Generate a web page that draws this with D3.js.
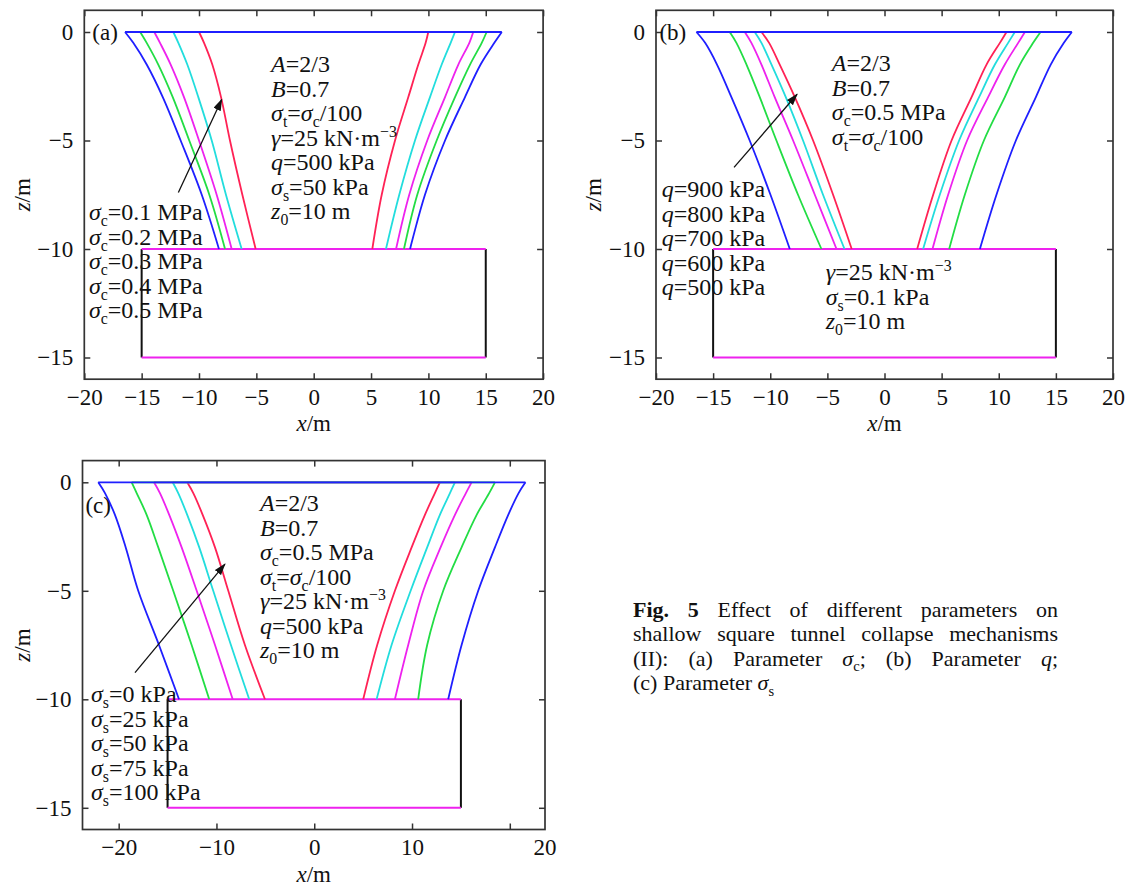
<!DOCTYPE html>
<html>
<head>
<meta charset="utf-8">
<script src="https://cdn.jsdelivr.net/npm/d3@7"></script>
<style>
  html, body { margin: 0; padding: 0; background: #fff; }
  svg { display: block; font-family: "Liberation Serif", "Times New Roman", serif; }
</style>
</head>
<body>
<svg id="fig" width="1137" height="888"></svg>
<script>
// Depth levels (m) at which every failure-surface profile is sampled
const depths = [0, -0.5, -1.5, -3, -5, -7.5, -10];

// Curve colours, in legend order (first legend entry = blue)
const seriesColors = ["#1f1fff", "#22dd44", "#ee22ee", "#22dddd", "#ff2255"];

// ---- (a) effect of sigma_c : x (m) of the left / right failure surface at each depth
const aLeft = [
  [-16.45, -15.73, -14.56, -13.16, -11.60, -9.76, -8.26],
  [-15.13, -14.56, -13.55, -12.29, -10.85, -9.10, -7.73],
  [-13.90, -13.40, -12.47, -11.31, -10.00, -8.46, -7.15],
  [-12.24, -11.80, -11.02, -10.06, -8.89, -7.65, -6.28],
  [-10.00, -9.56, -8.84, -8.08, -7.30, -6.22, -5.06]
];
const aRight = [
  [16.40, 15.75, 14.55, 13.19, 11.45, 9.70, 8.40],
  [15.08, 14.65, 13.63, 12.32, 10.72, 9.03, 7.87],
  [13.91, 13.57, 12.61, 11.45, 9.90, 8.33, 7.18],
  [12.32, 11.94, 11.16, 10.14, 8.83, 7.46, 6.30],
  [9.99, 9.76, 9.12, 8.25, 7.09, 5.93, 5.11]
];
const aLegend = ["*σ*_{c}=0.1 MPa", "*σ*_{c}=0.2 MPa", "*σ*_{c}=0.3 MPa", "*σ*_{c}=0.4 MPa", "*σ*_{c}=0.5 MPa"];
const aParams = ["*A*=2/3", "*B*=0.7", "*σ*_{t}=*σ*_{c}/100", "*γ*=25 kN·m^{−3}", "*q*=500 kPa", "*σ*_{s}=50 kPa", "*z*_{0}=10 m"];
const aArrow = [[-11.8, -7.4], [-8.02, -3.11]];

// ---- (b) effect of q
const bLeft = [
  [-16.46, -15.70, -14.66, -13.40, -11.80, -9.98, -8.29],
  [-13.55, -12.96, -12.08, -10.92, -9.46, -7.57, -5.52],
  [-12.23, -11.65, -10.77, -9.61, -8.00, -6.10, -4.20],
  [-11.36, -10.77, -9.89, -8.64, -7.13, -5.38, -3.50],
  [-10.77, -10.10, -9.17, -7.85, -6.25, -4.50, -2.87]
];
const bRight = [
  [16.40, 15.70, 14.55, 13.25, 11.50, 9.80, 8.35],
  [13.66, 13.01, 11.85, 10.53, 8.70, 7.03, 5.66],
  [12.29, 11.70, 10.53, 9.07, 7.23, 5.57, 4.20],
  [11.41, 10.82, 9.66, 8.28, 6.53, 4.84, 3.38],
  [10.68, 10.10, 8.93, 7.62, 5.87, 4.26, 2.86]
];
const bLegend = ["*q*=900 kPa", "*q*=800 kPa", "*q*=700 kPa", "*q*=600 kPa", "*q*=500 kPa"];
const bParams = ["*A*=2/3", "*B*=0.7", "*σ*_{c}=0.5 MPa", "*σ*_{t}=*σ*_{c}/100"];
const bParams2 = ["*γ*=25 kN·m^{−3}", "*σ*_{s}=0.1 kPa", "*z*_{0}=10 m"];
const bArrow = [[-13.17, -6.24], [-7.65, -2.87]];

// ---- (c) effect of sigma_s
const cLeft = [
  [-22.09, -21.40, -20.38, -19.28, -18.00, -15.88, -13.83],
  [-18.67, -18.16, -17.14, -15.95, -14.42, -12.54, -10.74],
  [-16.39, -15.78, -14.83, -13.56, -12.02, -10.15, -8.34],
  [-14.48, -13.91, -12.99, -11.76, -10.33, -8.52, -6.65],
  [-12.99, -12.37, -11.41, -10.15, -8.79, -7.09, -5.04]
];
const cRight = [
  [21.60, 20.90, 19.84, 18.48, 16.77, 15.07, 13.70],
  [18.48, 17.89, 16.61, 15.07, 13.19, 11.55, 10.63],
  [16.09, 15.51, 14.39, 12.92, 11.15, 9.61, 8.25],
  [14.39, 13.88, 12.85, 11.55, 9.86, 7.91, 6.38],
  [12.85, 12.34, 11.32, 9.96, 8.25, 6.44, 5.01]
];
const cLegend = ["*σ*_{s}=0 kPa", "*σ*_{s}=25 kPa", "*σ*_{s}=50 kPa", "*σ*_{s}=75 kPa", "*σ*_{s}=100 kPa"];
const cParams = ["*A*=2/3", "*B*=0.7", "*σ*_{c}=0.5 MPa", "*σ*_{t}=*σ*_{c}/100", "*γ*=25 kN·m^{−3}", "*q*=500 kPa", "*z*_{0}=10 m"];
const cArrow = [[-18.33, -8.77], [-9.13, -3.77]];

// Tunnel outline (m)
const tunnelX = [-15, 15];
const tunnelZ = [-10, -15];

// Axis ticks
const zDomain = [-16, 1];
const zTicks = [0, -5, -10, -15];
const abXTicks = [-20, -15, -10, -5, 0, 5, 10, 15, 20];
const cXTicks = [-20, -10, 0, 10, 20];

// Caption, one array of words per line
const captionLines = [
  ["**Fig.**", "**5**", "Effect", "of", "different", "parameters", "on"],
  ["shallow", "square", "tunnel", "collapse", "mechanisms"],
  ["(II):", "(a)", "Parameter", "*σ*_{c};", "(b)", "Parameter", "*q*;"],
  ["(c)", "Parameter", "*σ*_{s}"]
];

// ------------------------------------------------------------------
const FS_TICK = 23;     // tick labels, axis titles, panel tags
const FS_NOTE = 24;     // annotation blocks inside the axes
const FS_CAP = 22;      // caption
const LINE = 24.5;      // stacked text line height
const svg = d3.select("#fig");

svg.append("defs").append("marker")
  .attr("id", "arrowHead")
  .attr("markerUnits", "userSpaceOnUse")
  .attr("markerWidth", 12).attr("markerHeight", 8)
  .attr("refX", 11).attr("refY", 4)
  .attr("orient", "auto")
  .append("path").attr("d", "M0,0 L12,4 L0,8 Z").attr("fill", "#111");

// Mini markup: **bold**, *italic*, _{sub}, ^{sup}
function addRich(textSel, markup, size) {
  const re = /\*\*([^*]+)\*\*|\*([^*]+)\*|_\{([^}]*)\}|\^\{([^}]*)\}|([^*_^]+)/g;
  let m, shift = 0;
  while ((m = re.exec(markup))) {
    const ts = textSel.append("tspan");
    let target = 0;
    if (m[1] !== undefined) ts.text(m[1]).attr("font-weight", "bold");
    else if (m[2] !== undefined) ts.text(m[2]).attr("font-style", "italic");
    else if (m[3] !== undefined) { ts.text(m[3]).attr("font-size", size * 0.66); target = size * 0.25; }
    else if (m[4] !== undefined) { ts.text(m[4]).attr("font-size", size * 0.66); target = -size * 0.38; }
    else ts.text(m[5]);
    if (target !== shift) { ts.attr("dy", target - shift); shift = target; }
  }
}

function textBlock(g, lines, x, y) {
  lines.forEach((s, i) => {
    const t = g.append("text")
      .attr("x", x).attr("y", y + i * LINE).attr("dy", "0.35em")
      .attr("font-size", FS_NOTE).attr("fill", "#111");
    addRich(t, s, FS_NOTE);
  });
}

function drawPanel(cfg) {
  const x = d3.scaleLinear().domain(cfg.xDomain).range([cfg.x0, cfg.x1]);
  const z = d3.scaleLinear().domain(zDomain).range([cfg.y1, cfg.y0]);
  const g = svg.append("g");

  // axes (inward ticks on all four sides)
  const styleAxis = (ax) => {
    ax.select(".domain").remove();
    ax.selectAll(".tick line").attr("stroke", "#333").attr("stroke-width", 1.5);
    ax.selectAll("text").attr("font-size", FS_TICK).attr("fill", "#111")
      .attr("font-family", "Liberation Serif, Times New Roman, serif");
  };
  const fmtX = (d) => (cfg.edgeLabel !== undefined && d === cfg.edgeLabel) ? "" : d3.format("d")(d);
  g.append("g").attr("transform", `translate(0,${cfg.y1})`)
    .call(d3.axisBottom(x).tickValues(cfg.xTicks).tickSizeInner(-6).tickSizeOuter(0).tickPadding(9).tickFormat(fmtX))
    .call(styleAxis);
  g.append("g").attr("transform", `translate(0,${cfg.y0})`)
    .call(d3.axisTop(x).tickValues(cfg.xTicks).tickSizeInner(-6).tickSizeOuter(0).tickFormat(""))
    .call(styleAxis);
  g.append("g").attr("transform", `translate(${cfg.x0},0)`)
    .call(d3.axisLeft(z).tickValues(zTicks).tickSizeInner(-6).tickSizeOuter(0).tickPadding(11))
    .call(styleAxis);
  g.append("g").attr("transform", `translate(${cfg.x1},0)`)
    .call(d3.axisRight(z).tickValues(zTicks).tickSizeInner(-6).tickSizeOuter(0).tickFormat(""))
    .call(styleAxis);
  if (cfg.edgeLabel !== undefined) {
    // last label sits under the right-hand frame edge
    g.append("text").attr("x", cfg.x1).attr("y", cfg.y1 + 9).attr("dy", "0.71em")
      .attr("text-anchor", "middle").attr("font-size", FS_TICK).attr("fill", "#111")
      .text(d3.format("d")(cfg.edgeLabel));
  }

  // frame
  g.append("rect").attr("x", cfg.x0).attr("y", cfg.y0)
    .attr("width", cfg.x1 - cfg.x0).attr("height", cfg.y1 - cfg.y0)
    .attr("fill", "none").attr("stroke", "#333").attr("stroke-width", 1.7);

  // axis titles
  const xt = g.append("text").attr("x", (cfg.x0 + cfg.x1) / 2).attr("y", cfg.y1 + 44)
    .attr("dy", "0.35em").attr("text-anchor", "middle").attr("font-size", FS_TICK).attr("fill", "#111");
  addRich(xt, "*x*/m", FS_TICK);
  const zt = g.append("text")
    .attr("transform", `translate(${cfg.zTitleX},${(cfg.y0 + cfg.y1) / 2}) rotate(-90)`)
    .attr("dy", "0.35em").attr("text-anchor", "middle").attr("font-size", FS_TICK).attr("fill", "#111");
  addRich(zt, "*z*/m", FS_TICK);

  // tunnel
  const tun = g.append("g").attr("stroke-width", 2).attr("fill", "none");
  tunnelX.forEach(tx => tun.append("line")
    .attr("x1", x(tx)).attr("x2", x(tx)).attr("y1", z(tunnelZ[0])).attr("y2", z(tunnelZ[1]))
    .attr("stroke", "#111"));
  tunnelZ.forEach(tz => tun.append("line")
    .attr("x1", x(tunnelX[0])).attr("x2", x(tunnelX[1])).attr("y1", z(tz)).attr("y2", z(tz))
    .attr("stroke", "#ee22ee"));

  // failure surfaces: draw the last legend entry first so blue ends on top
  const line = d3.line().x(d => x(d[0])).y(d => z(d[1])).curve(d3.curveCatmullRom.alpha(0.5));
  const curves = g.append("g").attr("fill", "none").attr("stroke-width", 1.8)
    .attr("stroke-linejoin", "round");
  d3.range(cfg.left.length).reverse().forEach(i => {
    const col = seriesColors[i];
    const L = cfg.left[i].map((v, k) => [v, depths[k]]);
    const R = cfg.right[i].map((v, k) => [v, depths[k]]);
    curves.append("path").attr("d", line(L)).attr("stroke", col);
    curves.append("path").attr("d", line(R)).attr("stroke", col);
    curves.append("line")
      .attr("x1", x(L[0][0])).attr("x2", x(R[0][0]))
      .attr("y1", z(0)).attr("y2", z(0)).attr("stroke", col);
  });

  // arrow
  g.append("line")
    .attr("x1", x(cfg.arrow[0][0])).attr("y1", z(cfg.arrow[0][1]))
    .attr("x2", x(cfg.arrow[1][0])).attr("y2", z(cfg.arrow[1][1]))
    .attr("stroke", "#111").attr("stroke-width", 1.3)
    .attr("marker-end", "url(#arrowHead)");

  // panel tag
  g.append("text").attr("x", x(cfg.tagPos[0])).attr("y", z(cfg.tagPos[1]))
    .attr("dy", "0.35em").attr("font-size", FS_TICK).attr("fill", "#111").text(cfg.tag);

  // annotations
  cfg.blocks.forEach(b => textBlock(g, b.lines, x(b.at[0]), z(b.at[1])));
}

drawPanel({
  tag: "(a)", tagPos: [-19.3, 0],
  xDomain: [-20, 20], xTicks: abXTicks,
  x0: 84.3, x1: 543.1, y0: 10.3, y1: 379.2, zTitleX: 22,
  left: aLeft, right: aRight, arrow: aArrow,
  blocks: [
    { lines: aParams, at: [-3.72, -1.47] },
    { lines: aLegend, at: [-19.6, -8.29] }
  ]
});

drawPanel({
  tag: "(b)", tagPos: [-19.7, 0],
  xDomain: [-20, 20], xTicks: abXTicks,
  x0: 656, x1: 1113, y0: 10.3, y1: 379.2, zTitleX: 593,
  left: bLeft, right: bRight, arrow: bArrow,
  blocks: [
    { lines: bParams, at: [-4.61, -1.43] },
    { lines: bParams2, at: [-5.14, -11.06] },
    { lines: bLegend, at: [-19.5, -7.23] }
  ]
});

drawPanel({
  tag: "(c)", tagPos: [-23.4, -1.05],
  xDomain: [-23.7, 23.6], xTicks: cXTicks, edgeLabel: 20,
  x0: 82.5, x1: 545, y0: 460.6, y1: 829.5, zTitleX: 22,
  left: cLeft, right: cRight, arrow: cArrow,
  blocks: [
    { lines: cParams, at: [-5.55, -0.95] },
    { lines: cLegend, at: [-22.83, -9.76] }
  ]
});

// caption, justified between two margins except for the final line
(function caption() {
  const cx0 = 633, cx1 = 1058, cy0 = 609, step = 24.5;
  const g = svg.append("g");
  captionLines.forEach((words, li) => {
    const y = cy0 + li * step;
    const nodes = words.map(w => {
      const t = g.append("text").attr("y", y).attr("dy", "0.35em")
        .attr("font-size", FS_CAP).attr("fill", "#111");
      addRich(t, w, FS_CAP);
      return t;
    });
    const widths = nodes.map(t => t.node().getComputedTextLength());
    const last = li === captionLines.length - 1;
    const gap = last ? FS_CAP * 0.25 : (cx1 - cx0 - d3.sum(widths)) / (words.length - 1);
    let xx = cx0;
    nodes.forEach((t, i) => { t.attr("x", xx); xx += widths[i] + gap; });
  });
})();
</script>
</body>
</html>
